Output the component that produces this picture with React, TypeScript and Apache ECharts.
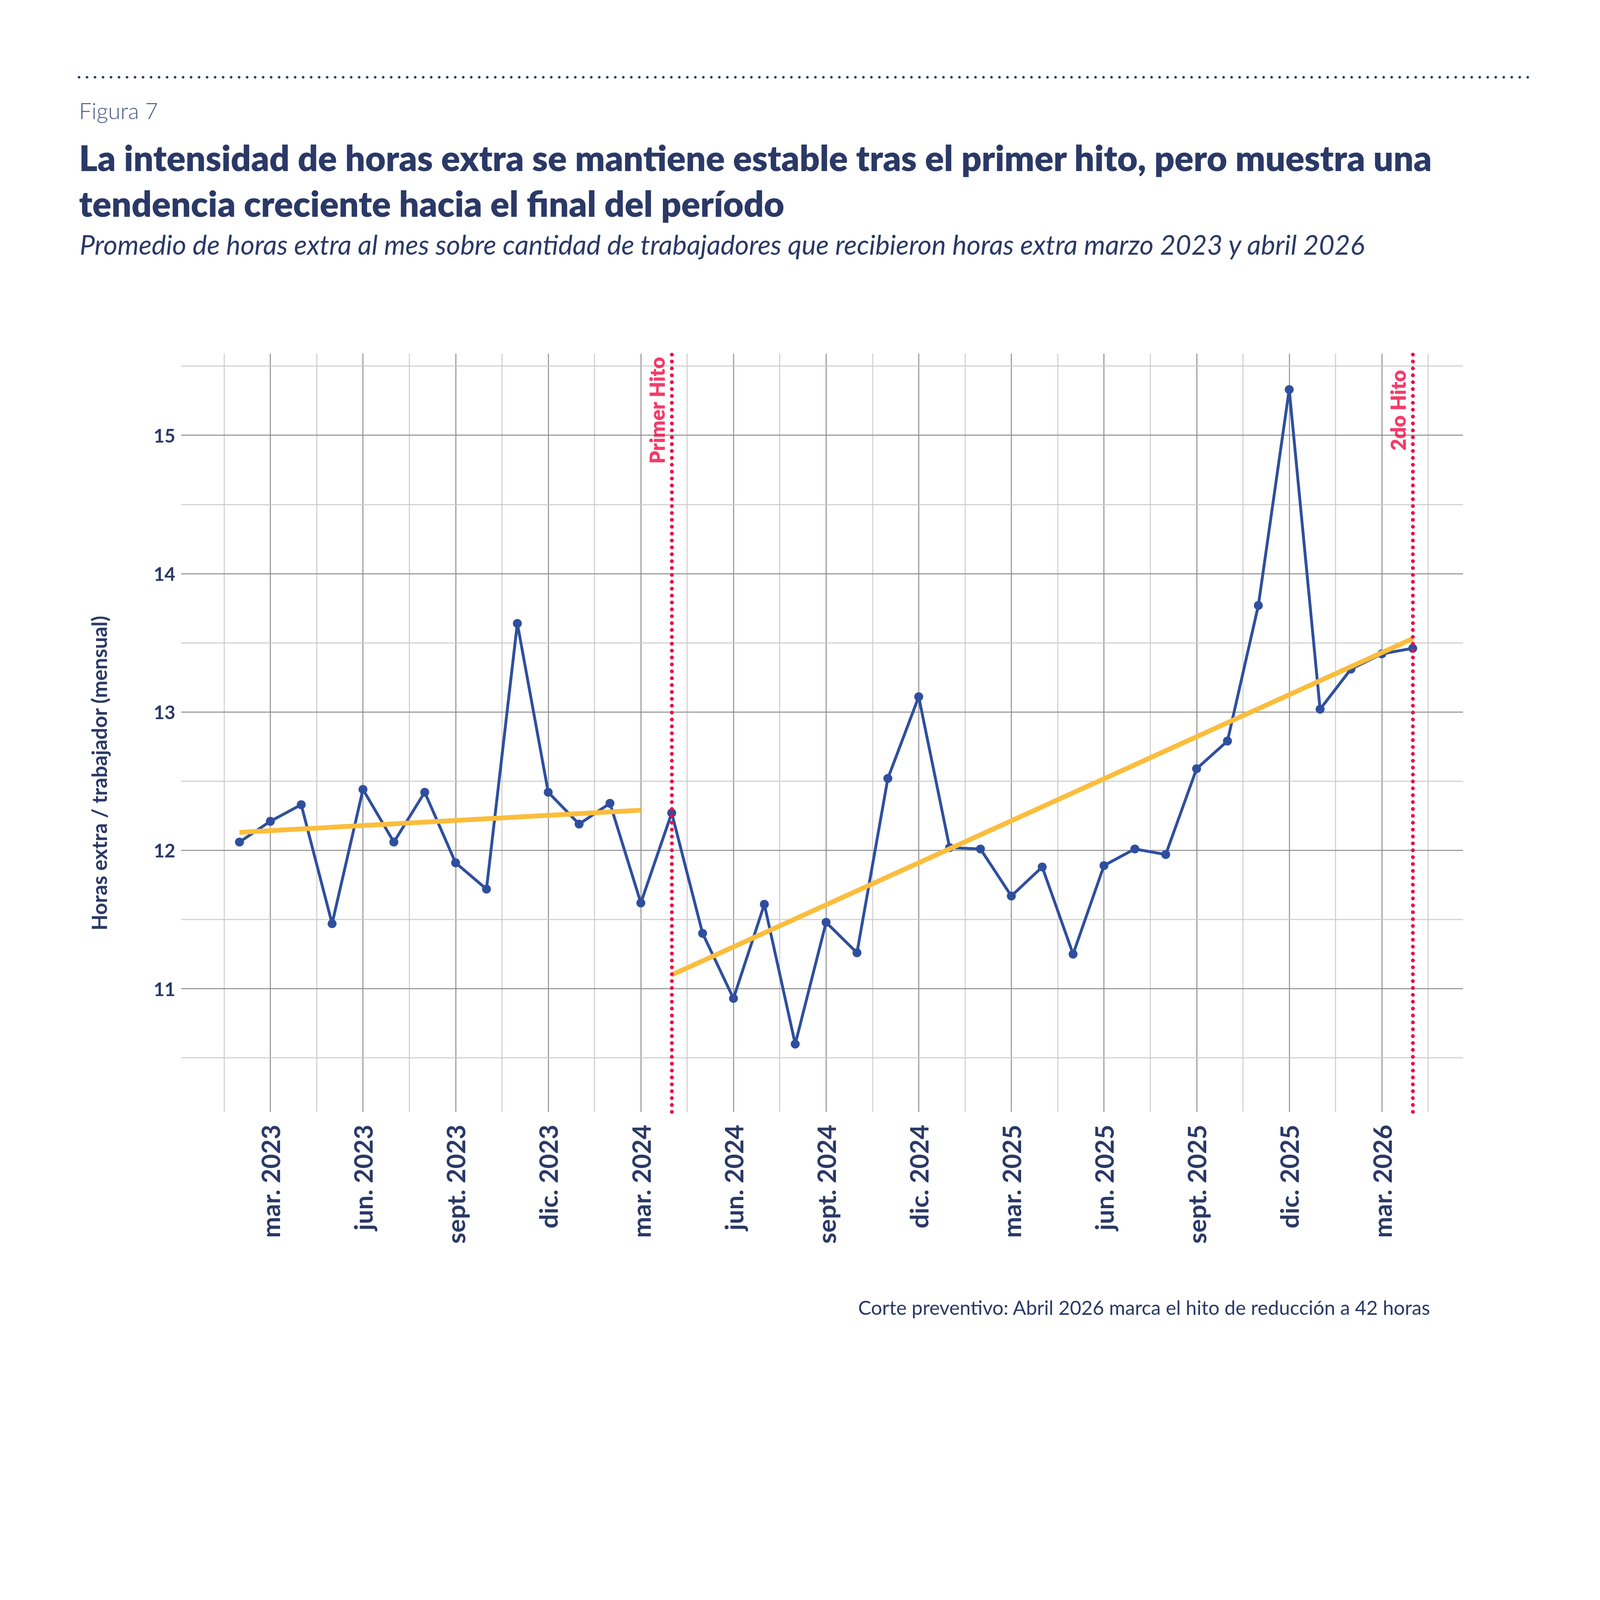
import React, { useEffect, useRef, useState } from "react";
import * as echarts from "echarts";

const REF_W = 5000;
const REF_H = 4339;
const FONT = "Lato, 'Noto Sans', sans-serif";

const NAVY = "#2a3966";
const BLUE = "#2f4f9e";
const YELLOW = "#fbbd3c";
const RED = "#f20a44";
const GRID_MAJOR = "#8c8c8c";
const GRID_MINOR = "#cbcbcb";

// Monthly periods (Feb 2023 .. Apr 2026)
const periods = [
  "2023-02", "2023-03", "2023-04", "2023-05", "2023-06", "2023-07", "2023-08", "2023-09", "2023-10", "2023-11", "2023-12",
  "2024-01", "2024-02", "2024-03", "2024-04", "2024-05", "2024-06", "2024-07", "2024-08", "2024-09", "2024-10", "2024-11", "2024-12",
  "2025-01", "2025-02", "2025-03", "2025-04", "2025-05", "2025-06", "2025-07", "2025-08", "2025-09", "2025-10", "2025-11", "2025-12",
  "2026-01", "2026-02", "2026-03", "2026-04",
];
const horasExtra = [
  12.06, 12.21, 12.33, 11.47, 12.44, 12.06, 12.42, 11.91, 11.72, 13.64, 12.42,
  12.19, 12.34, 11.62, 12.27, 11.40, 10.93, 11.61, 10.60, 11.48, 11.26, 12.52, 13.11,
  12.02, 12.01, 11.67, 11.88, 11.25, 11.89, 12.01, 11.97, 12.59, 12.79, 13.77, 15.33,
  13.02, 13.31, 13.42, 13.46,
];

// Linear trends (start / end)
const trendPreX = [0, 13];
const trendPreY = [12.13, 12.29];
const trendPostX = [14, 38];
const trendPostY = [11.10, 13.53];

// Milestones
const hitoX = [14, 38];
const hitoLabels = ["Primer Hito", "2do Hito"];
const hitoLabelY = 15.18;
const hitoLabelDx = -0.48; // label sits just left of its line

// Axis ticks
const xTickValues = [1, 4, 7, 10, 13, 16, 19, 22, 25, 28, 31, 34, 37];
const xTickLabels = [
  "mar. 2023", "jun. 2023", "sept. 2023", "dic. 2023", "mar. 2024", "jun. 2024", "sept. 2024",
  "dic. 2024", "mar. 2025", "jun. 2025", "sept. 2025", "dic. 2025", "mar. 2026",
];
const xMinorValues = [-0.5, 2.5, 5.5, 8.5, 11.5, 14.5, 17.5, 20.5, 23.5, 26.5, 29.5, 32.5, 35.5, 38.5];
const yTickValues = [11, 12, 13, 14, 15];
const yMinorValues = [10.5, 11.5, 12.5, 13.5, 14.5, 15.5];

const TITLE1 = "La intensidad de horas extra se mantiene estable tras el primer hito, pero muestra una";
const TITLE2 = "tendencia creciente hacia el final del período";
const SUBTITLE = "Promedio de horas extra al mes sobre cantidad de trabajadores que recibieron horas extra marzo 2023 y abril 2026";
const CAPTION = "Corte preventivo: Abril 2026 marca el hito de reducción a 42 horas";
const Y_TITLE = "Horas extra / trabajador (mensual)";

function fit(text: string, weight: string | number, style: string, target: number): number {
  const ctx = document.createElement("canvas").getContext("2d")!;
  ctx.font = `${style} ${weight} 100px ${FONT}`;
  const w = ctx.measureText(text).width;
  return (100 * target) / w;
}

export default function App() {
  const ref = useRef<HTMLDivElement>(null);
  const [size] = useState(() => {
    document.body.style.margin = "0";
    const w = Math.min(REF_W, document.documentElement.clientWidth || window.innerWidth || REF_W);
    return { w, h: Math.round((w * REF_H) / REF_W) };
  });

  useEffect(() => {
    const s = size.w / REF_W;
    const p = (v: number) => v * s;
    const chart = echarts.init(ref.current!, undefined, { renderer: "svg", width: size.w, height: size.h });

    const fsTitle = fit(TITLE1, 800, "normal", p(4230));
    const fsFig = fit("Figura 7", 300, "normal", p(247));
    const fsSub = fit(SUBTITLE, "normal", "italic", p(4021));
    const fsCap = fit(CAPTION, "normal", "normal", p(1790));
    const fsYT = fit(Y_TITLE, "bold", "normal", p(985));
    const fsX = fit("mar. 2023", "bold", "normal", p(354));
    const fsY = fit("13", "bold", "normal", p(68));
    const fsHito = fit("Primer Hito", 800, "normal", p(335));

    const gl = (color: string) => ({ color, width: p(3), type: "solid" });
    const gridLines = [
      ...xMinorValues.map((v) => ({ xAxis: v, lineStyle: gl(GRID_MINOR) })),
      ...xTickValues.map((v) => ({ xAxis: v, lineStyle: gl(GRID_MAJOR) })),
      ...yMinorValues.map((v) => ({ yAxis: v, lineStyle: gl(GRID_MINOR) })),
      ...yTickValues.map((v) => ({ yAxis: v, lineStyle: gl(GRID_MAJOR) })),
    ];

    const option: any = {
      animation: false,
      backgroundColor: "#ffffff",
      textStyle: { fontFamily: FONT },
      grid: { left: p(566), right: p(428), top: p(1105), bottom: p(865), containLabel: false },
      xAxis: {
        type: "value",
        min: -1.89,
        max: 39.63,
        axisLine: { show: false },
        axisTick: { show: false },
        splitLine: { show: false },
        axisLabel: {
          customValues: xTickValues,
          formatter: (v: number) => {
            const k = xTickValues.indexOf(Math.round(v));
            return k >= 0 ? xTickLabels[k] : "";
          },
          rotate: 90,
          margin: p(40),
          fontSize: fsX,
          fontWeight: "bold",
          color: NAVY,
          fontFamily: FONT,
        },
      },
      yAxis: {
        type: "value",
        min: 10.11,
        max: 15.59,
        axisLine: { show: false },
        axisTick: { show: false },
        splitLine: { show: false },
        axisLabel: {
          customValues: yTickValues,
          formatter: (v: number) => String(Math.round(v)),
          margin: p(18),
          fontSize: fsY,
          fontWeight: "bold",
          color: NAVY,
          fontFamily: FONT,
        },
      },
      graphic: [
        {
          type: "line",
          shape: { x1: p(247), y1: p(241.5), x2: p(4795), y2: p(241.5) },
          style: { stroke: NAVY, lineWidth: p(8), lineDash: [0.01, p(25)], lineCap: "round" },
        },
        {
          type: "text",
          x: p(247),
          y: p(345),
          style: { text: "Figura 7", fontSize: fsFig, fontWeight: 300, fontFamily: FONT, fill: "#4a5781", align: "left", verticalAlign: "middle" },
        },
        {
          type: "text",
          x: p(247),
          y: p(492),
          style: { text: TITLE1, fontSize: fsTitle, fontWeight: 800, fontFamily: FONT, fill: NAVY, align: "left", verticalAlign: "middle" },
        },
        {
          type: "text",
          x: p(247),
          y: p(635),
          style: { text: TITLE2, fontSize: fsTitle, fontWeight: 800, fontFamily: FONT, fill: NAVY, align: "left", verticalAlign: "middle" },
        },
        {
          type: "text",
          x: p(249),
          y: p(764),
          style: { text: SUBTITLE, fontSize: fsSub, fontStyle: "italic", fontFamily: FONT, fill: NAVY, align: "left", verticalAlign: "middle" },
        },
        {
          type: "text",
          x: p(4469),
          y: p(4085),
          style: { text: CAPTION, fontSize: fsCap, fontFamily: FONT, fill: NAVY, align: "right", verticalAlign: "middle" },
        },
        {
          type: "text",
          x: p(309),
          y: p(2416),
          rotation: Math.PI / 2,
          style: { text: Y_TITLE, fontSize: fsYT, fontWeight: "bold", fontFamily: FONT, fill: NAVY, align: "center", verticalAlign: "middle" },
        },
      ],
      series: [
        {
          name: "grid",
          type: "line",
          data: [],
          silent: true,
          z: 1,
          markLine: { silent: true, symbol: "none", z: 1, label: { show: false }, data: gridLines },
        },
        {
          name: "Horas extra / trabajador",
          type: "line",
          z: 3,
          data: periods.map((_, i) => [i, horasExtra[i]]),
          symbol: "circle",
          symbolSize: p(28),
          showSymbol: true,
          lineStyle: { color: BLUE, width: p(9) },
          itemStyle: { color: BLUE },
        },
        {
          name: "Tendencia pre",
          type: "line",
          z: 4,
          data: trendPreX.map((x, k) => [x, trendPreY[k]]),
          symbol: "none",
          lineStyle: { color: YELLOW, width: p(15) },
        },
        {
          name: "Tendencia post",
          type: "line",
          z: 4,
          data: trendPostX.map((x, k) => [x, trendPostY[k]]),
          symbol: "none",
          lineStyle: { color: YELLOW, width: p(15) },
        },
        {
          name: "hitos",
          type: "line",
          data: [],
          silent: true,
          z: 5,
          markLine: {
            silent: true,
            symbol: "none",
            z: 5,
            label: { show: false },
            lineStyle: { color: RED, width: p(12), type: [0.01, p(21.5)], cap: "round" },
            data: hitoX.map((x) => ({ xAxis: x })),
          },
        },
        {
          name: "hitoLabels",
          type: "scatter",
          z: 6,
          silent: true,
          symbolSize: 1,
          itemStyle: { color: "rgba(0,0,0,0)" },
          data: hitoX.map((x, k) => ({ value: [x + hitoLabelDx, hitoLabelY], name: hitoLabels[k] })),
          label: {
            show: true,
            position: "inside",
            formatter: "{b}",
            rotate: 90,
            fontSize: fsHito,
            fontWeight: 800,
            fontFamily: FONT,
            color: RED,
          },
        },
      ],
    };

    chart.setOption(option);
    return () => chart.dispose();
  }, [size]);

  return <div ref={ref} style={{ width: size.w, height: size.h }} />;
}
